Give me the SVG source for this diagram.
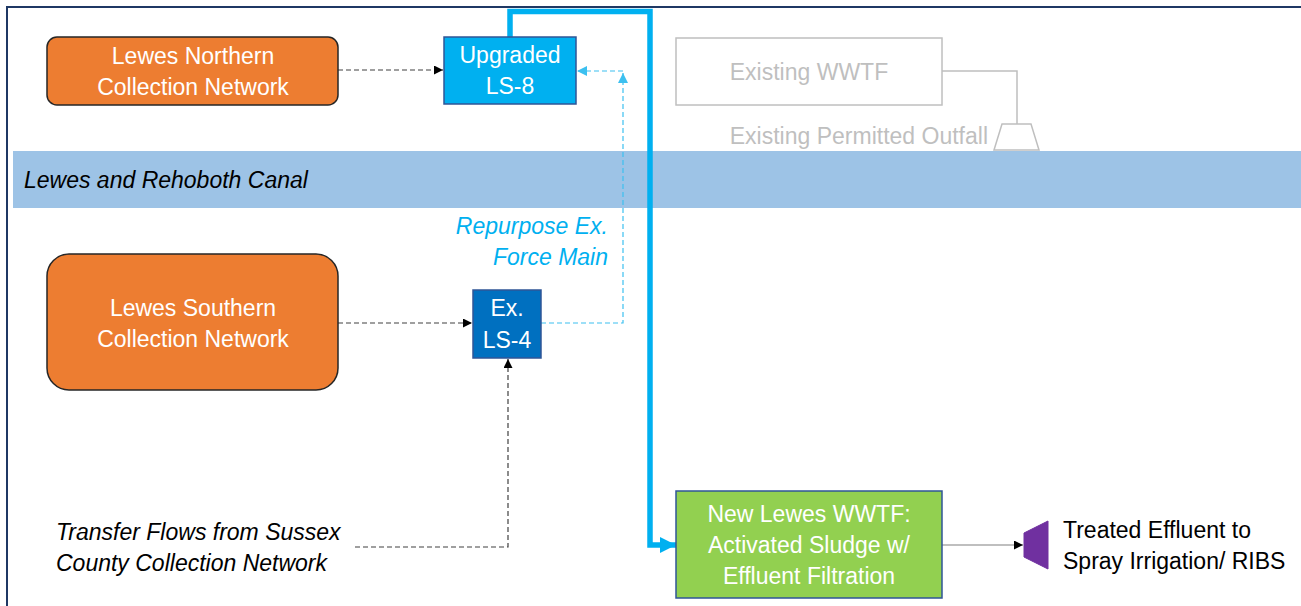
<svg xmlns="http://www.w3.org/2000/svg" width="1301" height="606" viewBox="0 0 1301 606">
<defs>
<style>
.t{font-family:"Liberation Sans",Arial,sans-serif;font-size:23px;}
.w{fill:#ffffff;}
.k{fill:#000000;}
.g{fill:#BFBFBF;}
.i{font-style:italic;}
.c{text-anchor:middle;}
.e{text-anchor:end;}
.dk{fill:none;stroke:#404040;stroke-width:1.2;stroke-dasharray:5 3;}
.db{fill:none;stroke:#3CC0F0;stroke-width:1.2;stroke-dasharray:5 3;}
</style>
<marker id="ak" viewBox="0 0 10 10" refX="10" refY="5" markerWidth="9" markerHeight="9" markerUnits="userSpaceOnUse" orient="auto"><path d="M0,0 L10,5 L0,10 z" fill="#000"/></marker>
<marker id="ab" viewBox="0 0 10 10" refX="10" refY="5" markerWidth="10" markerHeight="10" markerUnits="userSpaceOnUse" orient="auto"><path d="M0,0 L10,5 L0,10 z" fill="#3CC0F0"/></marker>
<marker id="abig" viewBox="0 0 10 10" refX="10" refY="5" markerWidth="16" markerHeight="16" markerUnits="userSpaceOnUse" orient="auto"><path d="M0,0 L10,5 L0,10 z" fill="#00B0F0"/></marker>
</defs>
<rect x="0" y="0" width="1301" height="606" fill="#ffffff"/>
<path d="M7,620 L7,7 L1310,7" fill="none" stroke="#1F3864" stroke-width="2"/>
<g id="canal">
<rect x="13" y="151" width="1300" height="57" fill="#9DC3E6"/>
<text class="t k i" x="24" y="188">Lewes and Rehoboth Canal</text>
</g>
<g id="connectors">
<path class="dk" d="M338,70 L443,70" marker-end="url(#ak)"/>
<path class="dk" d="M338,323 L472,323" marker-end="url(#ak)"/>
<path class="dk" d="M355,547 L508,547 L508,359" marker-end="url(#ak)"/>
<path class="db" d="M541,323 L623,323 L623,73" marker-end="url(#ab)"/>
<path class="db" d="M623,71 L577,71" marker-end="url(#ab)"/>
<path d="M510,37 L510,11.5 L650,11.5 L650,545 L676,545" fill="none" stroke="#00B0F0" stroke-width="5.5" marker-end="url(#abig)"/>
<path d="M942,545 L1023,545" fill="none" stroke="#808080" stroke-width="1.2" marker-end="url(#ak)"/>
<path d="M942,71 L1017,71 L1017,124" fill="none" stroke="#BFBFBF" stroke-width="1.5"/>
</g>
<g id="northern">
<rect x="47" y="37" width="291" height="68" rx="10" fill="#ED7D31" stroke="#262626" stroke-width="1.5"/>
<text class="t w c" x="193" y="64">Lewes Northern</text>
<text class="t w c" x="193" y="95">Collection Network</text>
</g>
<g id="ls8">
<rect x="444" y="37" width="132" height="67" fill="#00B0F0" stroke="#2F5597" stroke-width="1.5"/>
<text class="t w c" x="510" y="63">Upgraded</text>
<text class="t w c" x="510" y="94">LS-8</text>
</g>
<g id="existing-wwtf">
<rect x="676" y="38" width="266" height="67" fill="#ffffff" stroke="#BFBFBF" stroke-width="1.5"/>
<text class="t g c" x="809" y="80">Existing WWTF</text>
</g>
<g id="outfall">
<path d="M1002,124 L1031,124 L1039,150 L994,150 Z" fill="#ffffff" stroke="#BFBFBF" stroke-width="1.5"/>
<text class="t g e" x="988" y="144">Existing Permitted Outfall</text>
</g>
<g id="force-main-label">
<text class="t i e" x="608" y="234" fill="#00B0F0">Repurpose Ex.</text>
<text class="t i e" x="608" y="265" fill="#00B0F0">Force Main</text>
</g>
<g id="southern">
<rect x="47" y="254" width="291" height="136" rx="22" fill="#ED7D31" stroke="#262626" stroke-width="1.5"/>
<text class="t w c" x="193" y="316">Lewes Southern</text>
<text class="t w c" x="193" y="347">Collection Network</text>
</g>
<g id="ls4">
<rect x="473" y="290" width="68" height="68" fill="#0070C0" stroke="#2F5597" stroke-width="1.5"/>
<text class="t w c" x="507" y="316">Ex.</text>
<text class="t w c" x="507" y="348">LS-4</text>
</g>
<g id="transfer">
<text class="t k i" x="56" y="540">Transfer Flows from Sussex</text>
<text class="t k i" x="56" y="571">County Collection Network</text>
</g>
<g id="new-wwtf">
<rect x="676" y="491" width="266" height="107" fill="#92D050" stroke="#2F5597" stroke-width="1.5"/>
<text class="t w c" x="809" y="522">New Lewes WWTF:</text>
<text class="t w c" x="809" y="553">Activated Sludge w/</text>
<text class="t w c" x="809" y="584">Effluent Filtration</text>
</g>
<g id="effluent">
<path d="M1024,533 L1048,521 L1048,569 L1024,557 Z" fill="#7030A0" stroke="#7030A0" stroke-width="1"/>
<text class="t k" x="1063" y="538">Treated Effluent to</text>
<text class="t k" x="1063" y="569">Spray Irrigation/ RIBS</text>
</g>
</svg>
